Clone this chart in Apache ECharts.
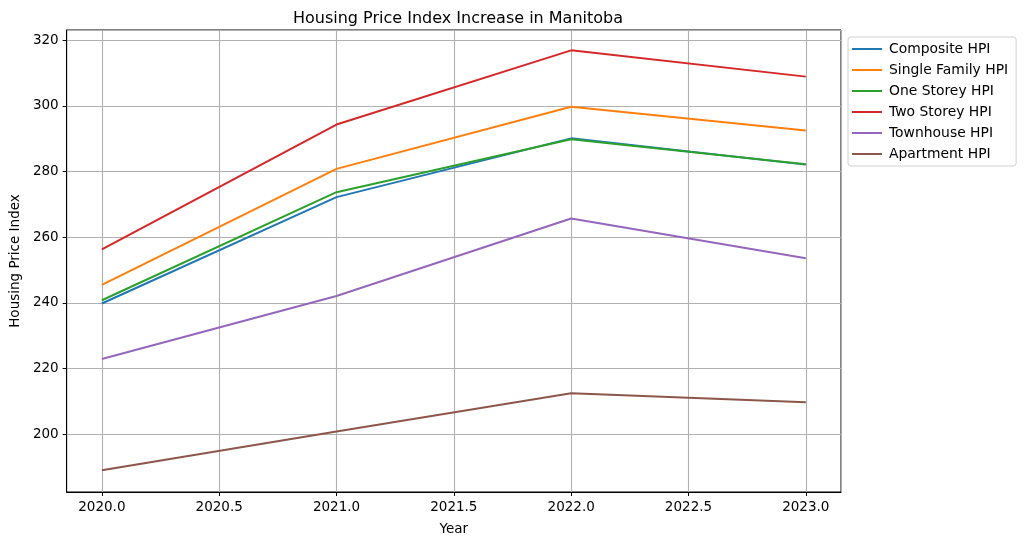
<!DOCTYPE html>
<html>
<head>
<meta charset="utf-8">
<script src="https://cdn.jsdelivr.net/npm/echarts@6/dist/echarts.min.js"></script>
<style>
    html, body {margin:0;padding:0;background:#ffffff;}
    #main {width:1026px;height:545px;}
</style>
</head>
<body>
<div id="main"></div>
<script>
    // data
    var years = [2020, 2021, 2022, 2023];
    var seriesNames = ['Composite HPI', 'Single Family HPI', 'One Storey HPI', 'Two Storey HPI', 'Townhouse HPI', 'Apartment HPI'];
    var composite = [239.8, 272.2, 290.1, 282.1];
    var singleFamily = [245.5, 280.8, 299.7, 292.5];
    var oneStorey = [240.8, 273.7, 289.8, 282.2];
    var twoStorey = [256.3, 294.3, 316.9, 308.9];
    var townhouse = [222.9, 242.1, 265.7, 253.6];
    var apartment = [189.0, 200.8, 212.5, 209.7];
    var colors = ['#1f77b4', '#ff7f0e', '#2ca02c', '#d62728', '#9467bd', '#8c564b'];

    var allValues = [composite, singleFamily, oneStorey, twoStorey, townhouse, apartment];
    var font = 'DejaVu Sans';

    var chart = echarts.init(document.getElementById('main'));

    var series = allValues.map(function (vals, i) {
        return {
            name: seriesNames[i],
            type: 'line',
            symbol: 'none',
            lineStyle: {width: 2, color: colors[i]},
            itemStyle: {color: colors[i]},
            data: years.map(function (y, j) { return [y, vals[j]]; })
        };
    });

    var option = {
        animation: false,
        backgroundColor: '#ffffff',
        textStyle: {fontFamily: font},
        title: {
            text: 'Housing Price Index Increase in Manitoba',
            left: 453, top: 6,
            textAlign: 'center',
            textStyle: {fontFamily: font, fontSize: 16, fontWeight: 'normal', color: '#000'}
        },
        legend: {
            orient: 'vertical',
            left: 848, top: 37,
            padding: [5, 8, 5, 4],
            itemGap: 7,
            itemWidth: 30,
            itemHeight: 2,
            icon: 'rect',
            borderColor: '#d0d0d0',
            borderWidth: 1,
            borderRadius: 3,
            textStyle: {fontFamily: font, fontSize: 13.9, color: '#000', padding: [0, 0, 0, 2]},
            data: seriesNames
        },
        grid: {
            left: 66, right: 185, top: 30, bottom: 53,
            show: true, borderColor: '#000', borderWidth: 1,
            containLabel: false
        },
        xAxis: {
            type: 'value',
            min: 2019.85, max: 2023.15,
            minInterval: 0.5, maxInterval: 0.5,
            name: 'Year',
            nameLocation: 'middle',
            nameGap: 30,
            nameTextStyle: {fontFamily: font, fontSize: 13.5, color: '#000'},
            axisLine: {show: true, lineStyle: {color: '#000'}},
            axisTick: {show: true, length: 4, lineStyle: {color: '#000'}},
            axisLabel: {
                color: '#000', fontSize: 13.5, fontFamily: font, margin: 8,
                showMinLabel: false, showMaxLabel: false,
                formatter: function (v) { return v.toFixed(1); }
            },
            splitLine: {show: true, lineStyle: {color: '#b0b0b0', width: 1.1}}
        },
        yAxis: {
            type: 'value',
            min: 182.4, max: 323.1,
            minInterval: 20, maxInterval: 20,
            name: 'Housing Price Index',
            nameLocation: 'middle',
            nameGap: 44,
            nameTextStyle: {fontFamily: font, fontSize: 13.5, color: '#000'},
            axisLine: {show: true, lineStyle: {color: '#000'}},
            axisTick: {show: true, length: 4, lineStyle: {color: '#000'}},
            axisLabel: {
                color: '#000', fontSize: 13.5, fontFamily: font, margin: 8,
                showMinLabel: false, showMaxLabel: false,
                formatter: function (v) { return Math.round(v) === v ? String(v) : ''; }
            },
            splitLine: {show: true, lineStyle: {color: '#b0b0b0', width: 1.1}}
        },
        series: series
    };
    chart.setOption(option);
</script>
</body>
</html>
